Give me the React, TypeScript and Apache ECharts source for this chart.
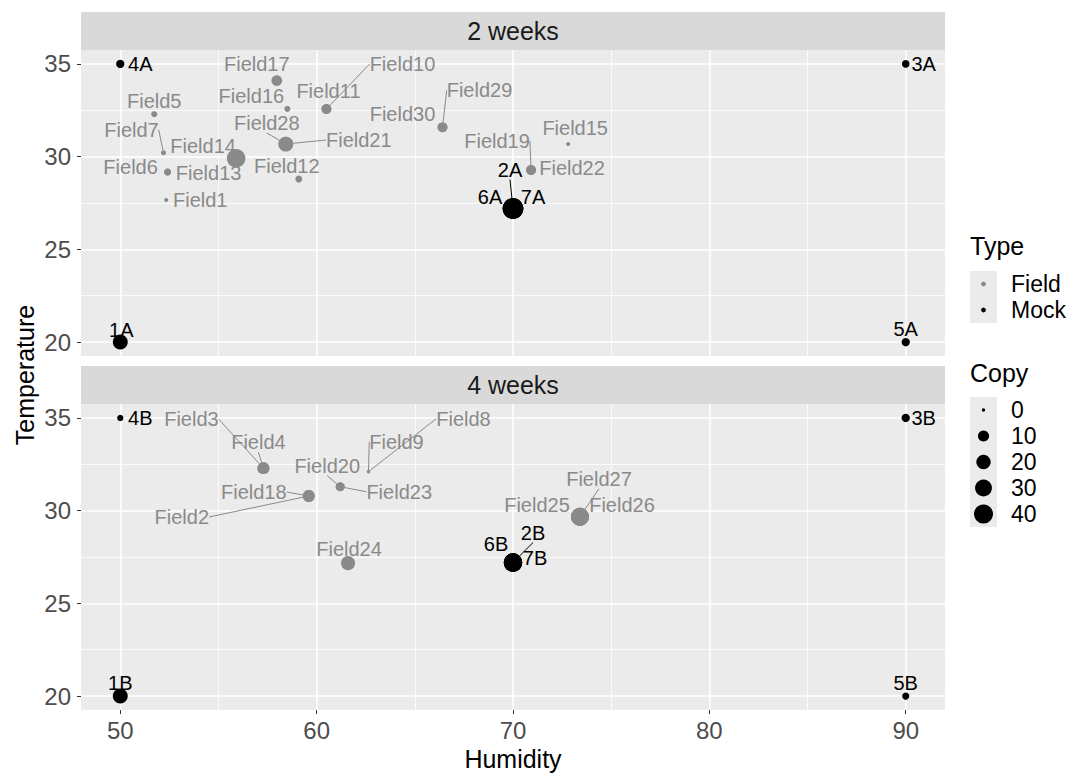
import React, { useEffect, useRef } from "react";
import * as echarts from "echarts";

const xTicks = [50, 60, 70, 80, 90];
const yTicks = [20, 25, 30, 35];
const panelTitles = ["2 weeks", "4 weeks"];
const typeLegend = ["Field", "Mock"];
const copyLegend = [0, 10, 20, 30, 40];

// 2 weeks panel
const w2Names = ["Field17", "Field16", "Field10", "Field11", "Field5", "Field7", "Field14", "Field28", "Field21", "Field6", "Field13", "Field12", "Field1", "Field30", "Field29", "Field15", "Field19", "Field22", "1A", "2A", "3A", "4A", "5A", "6A", "7A"];
const w2Humidity = [57.97, 58.51, 60.5, 60.5, 51.73, 52.2, 55.9, 58.43, 58.43, 52.41, 52.41, 59.09, 52.34, 66.41, 66.41, 72.81, 70.92, 70.92, 50, 70, 90, 50, 90, 70, 70];
const w2Temperature = [34.1, 32.57, 32.57, 32.57, 32.29, 30.21, 29.91, 30.68, 30.68, 29.17, 29.17, 28.79, 27.66, 31.58, 31.58, 30.68, 29.28, 29.28, 20, 27.2, 35, 35, 20, 27.2, 27.2];
const w2Copy = [9, 1.2, 7, 7, 1.2, 0.5, 38, 21, 21, 2.2, 2.2, 2.2, 0.1, 7, 7, 0.1, 7, 7, 22, 49, 3, 4, 4, 49, 49];
const w2Type = ["Field", "Field", "Field", "Field", "Field", "Field", "Field", "Field", "Field", "Field", "Field", "Field", "Field", "Field", "Field", "Field", "Field", "Field", "Mock", "Mock", "Mock", "Mock", "Mock", "Mock", "Mock"];

// 4 weeks panel
const w4Names = ["Field3", "Field4", "Field20", "Field23", "Field18", "Field2", "Field9", "Field8", "Field25", "Field26", "Field27", "Field24", "1B", "2B", "3B", "4B", "5B", "6B", "7B"];
const w4Humidity = [57.29, 57.29, 61.2, 61.2, 59.6, 59.6, 62.64, 62.64, 73.41, 73.41, 73.41, 61.6, 50, 70, 90, 50, 90, 70, 70];
const w4Temperature = [32.29, 32.29, 31.29, 31.29, 30.79, 30.79, 32.1, 32.1, 29.67, 29.67, 29.67, 27.17, 20, 27.2, 35, 35, 20, 27.2, 27.2];
const w4Copy = [12, 12, 5, 5, 12, 12, 0, 0, 35, 35, 35, 19, 22, 37, 4, 1.5, 2.5, 37, 37];
const w4Type = ["Field", "Field", "Field", "Field", "Field", "Field", "Field", "Field", "Field", "Field", "Field", "Field", "Mock", "Mock", "Mock", "Mock", "Mock", "Mock", "Mock"];

// label placement (pixel offset from point centre, and whether a leader line is drawn)
const labelOffsets: Record<string, [number, number, number]> = {
  Field17: [-20, -17, 0], Field16: [-36, -13, 0], Field10: [76, -45, 1], Field11: [2, -18, 0],
  Field5: [0, -13, 0], Field7: [-32, -23, 1], Field14: [-33, -12, 0], Field28: [-19, -21, 1],
  Field21: [73, -4, 1], Field6: [-37, -5, 0], Field13: [41, 1, 0], Field12: [-12, -13, 0],
  Field1: [34, 0, 0], Field30: [-40, -13, 0], Field29: [37, -37, 1], Field15: [7, -16, 0],
  Field19: [-34, -29, 1], Field22: [41, -2, 0],
  "1A": [1, -12, 0], "2A": [-3, -39, 1], "3A": [18, 0, 0], "4A": [20, 0, 0], "5A": [0, -13, 0], "6A": [-23, -12, 0], "7A": [20, -12, 0],
  Field3: [-72, -49, 1], Field4: [-5, -26, 1], Field20: [-13, -21, 1], Field23: [59, 5, 1],
  Field18: [-55, -4, 1], Field2: [-127, 21, 1], Field9: [28, -30, 1], Field8: [95, -53, 1],
  Field25: [-43, -12, 0], Field26: [42, -12, 0], Field27: [19, -38, 1], Field24: [1, -14, 0],
  "1B": [0, -13, 0], "2B": [20, -30, 1], "3B": [18, 0, 0], "4B": [20, 0, 0], "5B": [0, -13, 0], "6B": [-17, -19, 0], "7B": [22, -5, 0],
};

const FONT = "Liberation Sans, Arial, Helvetica, sans-serif";
const fieldColor = "#8a8a8a";
const mockColor = "#000000";
const colorOf = (t: string) => (t === "Field" ? fieldColor : mockColor);
const sizeOf = (v: number) => 3.3 + 15.7 * Math.sqrt(Math.max(v, 0) / 40);

const GRID_LEFT = 81;
const GRID_W = 864;
const GRID_H = 306;
const GRID_TOPS = [50, 404];
const STRIP_H = 38;

function buildData(names: string[], hum: number[], temp: number[], copy: number[], type: string[]) {
  return names.map((n, i) => {
    const c = colorOf(type[i]);
    const off = labelOffsets[n] || [0, -12, 0];
    return {
      name: n,
      value: [hum[i], temp[i], copy[i]],
      itemStyle: { color: c, opacity: 1 },
      label: { color: c },
      labelLine: { show: off[2] === 1, lineStyle: { color: c, width: 1 } },
    };
  });
}

function makeLayout(names: string[]) {
  return (p: any) => {
    const off = labelOffsets[names[p.dataIndex]] || [0, -12, 0];
    const cx = p.rect.x + p.rect.width / 2;
    const cy = p.rect.y + p.rect.height / 2;
    return { x: cx + off[0], y: cy + off[1], align: "center", verticalAlign: "middle" };
  };
}

export default function App() {
  const ref = useRef<HTMLDivElement>(null);
  useEffect(() => {
    if (!ref.current) return;
    const chart = echarts.init(ref.current, undefined, { renderer: "svg" });

    const xAxisBase = (showLabels: boolean, gridIndex: number) => ({
      type: "value",
      gridIndex,
      min: 48,
      max: 92,
      splitNumber: 5,
      axisLine: { show: false },
      axisTick: { show: showLabels, length: 4, lineStyle: { color: "#333333", width: 1 }, customValues: xTicks },
      axisLabel: { show: showLabels, customValues: xTicks, fontSize: 24, color: "#4d4d4d", margin: 8, fontFamily: FONT },
      splitLine: { show: true, lineStyle: { color: "#ffffff", width: 1.6 } },
      minorTick: { show: false, splitNumber: 2 },
      minorSplitLine: { show: true, lineStyle: { color: "#ffffff", width: 0.8 } },
    });
    const yAxisBase = (gridIndex: number) => ({
      type: "value",
      gridIndex,
      min: 19.25,
      max: 35.75,
      splitNumber: 4,
      axisLine: { show: false },
      axisTick: { show: true, length: 4, lineStyle: { color: "#333333", width: 1 }, customValues: yTicks },
      axisLabel: { customValues: yTicks, fontSize: 24, color: "#4d4d4d", margin: 10, fontFamily: FONT },
      splitLine: { show: true, lineStyle: { color: "#ffffff", width: 1.6 } },
      minorTick: { show: false, splitNumber: 2 },
      minorSplitLine: { show: true, lineStyle: { color: "#ffffff", width: 0.8 } },
    });

    const seriesBase = (names: string[], data: any[], idx: number) => ({
      type: "scatter",
      xAxisIndex: idx,
      yAxisIndex: idx,
      data,
      symbol: "circle",
      symbolSize: (val: number[]) => sizeOf(val[2]),
      itemStyle: { opacity: 1 },
      label: { show: true, formatter: "{b}", fontSize: 20, fontFamily: FONT },
      labelLayout: makeLayout(names),
      emphasis: { disabled: true },
    });

    const graphics: any[] = [];
    panelTitles.forEach((t, i) => {
      const top = GRID_TOPS[i] - STRIP_H;
      graphics.push({ type: "rect", shape: { x: GRID_LEFT, y: top, width: GRID_W, height: STRIP_H }, style: { fill: "#d9d9d9" }, silent: true });
      graphics.push({
        type: "text", x: GRID_LEFT + GRID_W / 2, y: top + STRIP_H / 2,
        style: { text: t, fontSize: 25, fontFamily: FONT, fill: "#1a1a1a", align: "center", verticalAlign: "middle" },
      });
    });
    graphics.push({
      type: "text", x: GRID_LEFT + GRID_W / 2, y: 759,
      style: { text: "Humidity", fontSize: 25, fontFamily: FONT, fill: "#000", align: "center", verticalAlign: "middle" },
    });
    graphics.push({
      type: "text", x: 25, y: 375, rotation: Math.PI / 2,
      style: { text: "Temperature", fontSize: 25, fontFamily: FONT, fill: "#000", align: "center", verticalAlign: "middle" },
    });
    // legend: Type
    graphics.push({ type: "text", x: 970, y: 246, style: { text: "Type", fontSize: 25, fontFamily: FONT, fill: "#000", align: "left", verticalAlign: "middle" } });
    graphics.push({ type: "rect", shape: { x: 970, y: 271, width: 27, height: 52 }, style: { fill: "#ebebeb" } });
    typeLegend.forEach((t, i) => {
      const y = 284 + i * 26;
      graphics.push({ type: "circle", shape: { cx: 983.5, cy: y, r: 2.4 }, style: { fill: colorOf(t) } });
      graphics.push({ type: "text", x: 1011, y, style: { text: t, fontSize: 23, fontFamily: FONT, fill: "#000", align: "left", verticalAlign: "middle" } });
    });
    // legend: Copy
    graphics.push({ type: "text", x: 970, y: 373, style: { text: "Copy", fontSize: 25, fontFamily: FONT, fill: "#000", align: "left", verticalAlign: "middle" } });
    graphics.push({ type: "rect", shape: { x: 970, y: 397, width: 27, height: 130 }, style: { fill: "#ebebeb" } });
    copyLegend.forEach((v, i) => {
      const y = 410 + i * 26;
      graphics.push({ type: "circle", shape: { cx: 983.5, cy: y, r: sizeOf(v) / 2 }, style: { fill: mockColor } });
      graphics.push({ type: "text", x: 1011, y, style: { text: String(v), fontSize: 23, fontFamily: FONT, fill: "#000", align: "left", verticalAlign: "middle" } });
    });

    chart.setOption({
      animation: false,
      backgroundColor: "#ffffff",
      textStyle: { fontFamily: FONT },
      grid: GRID_TOPS.map((top) => ({
        left: GRID_LEFT, top, width: GRID_W, height: GRID_H, show: true, backgroundColor: "#ebebeb", borderWidth: 0, containLabel: false,
      })),
      xAxis: [xAxisBase(false, 0), xAxisBase(true, 1)],
      yAxis: [yAxisBase(0), yAxisBase(1)],
      series: [
        seriesBase(w2Names, buildData(w2Names, w2Humidity, w2Temperature, w2Copy, w2Type), 0),
        seriesBase(w4Names, buildData(w4Names, w4Humidity, w4Temperature, w4Copy, w4Type), 1),
      ],
      graphic: graphics,
    });
    return () => chart.dispose();
  }, []);
  return <div ref={ref} style={{ position: "fixed", left: 0, top: 0, width: 1070, height: 775 }} />;
}
